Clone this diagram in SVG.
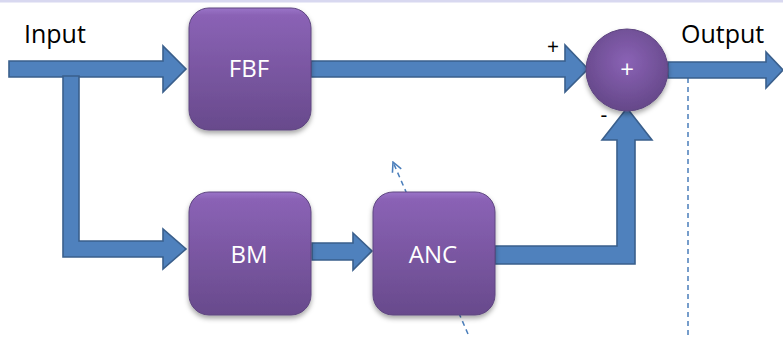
<svg xmlns="http://www.w3.org/2000/svg" width="783" height="338" viewBox="0 0 783 338">
<style>
.arr{fill:#4f81bd;stroke:#3a5f8c;stroke-width:1.6;stroke-linejoin:miter}
.box{fill:url(#pg);stroke:#5e4680;stroke-width:1}
.lbl{font-family:"Open Sans","Liberation Sans",sans-serif;font-size:25px;fill:#000}
.wt{font-family:"Open Sans","Liberation Sans",sans-serif;font-size:24px;fill:#fff;text-anchor:middle}
.sg{font-family:"Open Sans","Liberation Sans",sans-serif;font-size:21px;fill:#000;text-anchor:middle}
.dash{fill:none;stroke:#4a7ebb;stroke-width:1.5;stroke-dasharray:5,4}
</style>
<defs>
<linearGradient id="pg" x1="0" y1="0" x2="0" y2="1">
<stop offset="0" stop-color="#9a74c8"/>
<stop offset="0.06" stop-color="#8a62b5"/>
<stop offset="1" stop-color="#684a8c"/>
</linearGradient>
<radialGradient id="cg" cx="0.5" cy="0.4" r="0.6">
<stop offset="0" stop-color="#8a62b5"/>
<stop offset="1" stop-color="#654889"/>
</radialGradient>
<filter id="sh" x="-20%" y="-20%" width="140%" height="150%">
<feDropShadow dx="0" dy="3" stdDeviation="2.5" flood-color="#000" flood-opacity="0.35"/>
</filter>
<marker id="ah" viewBox="0 0 10 10" refX="9" refY="5" markerWidth="8" markerHeight="8" orient="auto">
<path d="M1,1 L9,5 L1,9" fill="none" stroke="#4a7ebb" stroke-width="1.3"/>
</marker>
</defs>
<rect x="0" y="0" width="783" height="2.5" fill="#d8d8f0"/>
<g id="connectors">
<line class="dash" x1="688" y1="78" x2="688" y2="338"/>
<line class="dash" x1="468" y1="334" x2="393" y2="162" marker-end="url(#ah)"/>
<polygon class="arr" points="9,61 163,61 163,46 186,69 163,92 163,77 9,77"/>
<polygon class="arr" points="63,76 79,76 79,241 163,241 163,229 186,249 163,269 163,257 63,257"/>
<polygon class="arr" points="311,61 565,61 565,45 588,69 565,92 565,77 311,77"/>
<polygon class="arr" points="668,62 766,62 766,52 783,70 766,88 766,78 668,78"/>
<polygon class="arr" points="312,243 353,243 353,233 372,251 353,270 353,260 312,260"/>
<polygon class="arr" points="495,246 617,246 617,140 602,140 627,108 652,140 635,140 635,264 495,264"/>
</g>
<g id="input"><text class="lbl" x="24" y="43">Input</text></g>
<g id="output"><text class="lbl" x="681" y="43">Output</text></g>
<g id="FBF"><rect class="box" filter="url(#sh)" x="189" y="8" width="122" height="122" rx="20"/><text class="wt" x="249" y="77">FBF</text></g>
<g id="BM"><rect class="box" filter="url(#sh)" x="189" y="192" width="122" height="123" rx="20"/><text class="wt" x="249" y="263">BM</text></g>
<g id="ANC"><rect class="box" filter="url(#sh)" x="373" y="192" width="122" height="123" rx="20"/><text class="wt" x="433" y="263">ANC</text></g>
<g id="sum"><circle cx="627" cy="70" r="41" fill="url(#cg)" stroke="#5e4680" stroke-width="1" filter="url(#sh)"/><text class="wt" x="627" y="78" font-size="22">+</text></g>
<g id="signs"><text class="sg" x="553" y="54">+</text><text class="sg" x="604" y="122">-</text></g>
</svg>
